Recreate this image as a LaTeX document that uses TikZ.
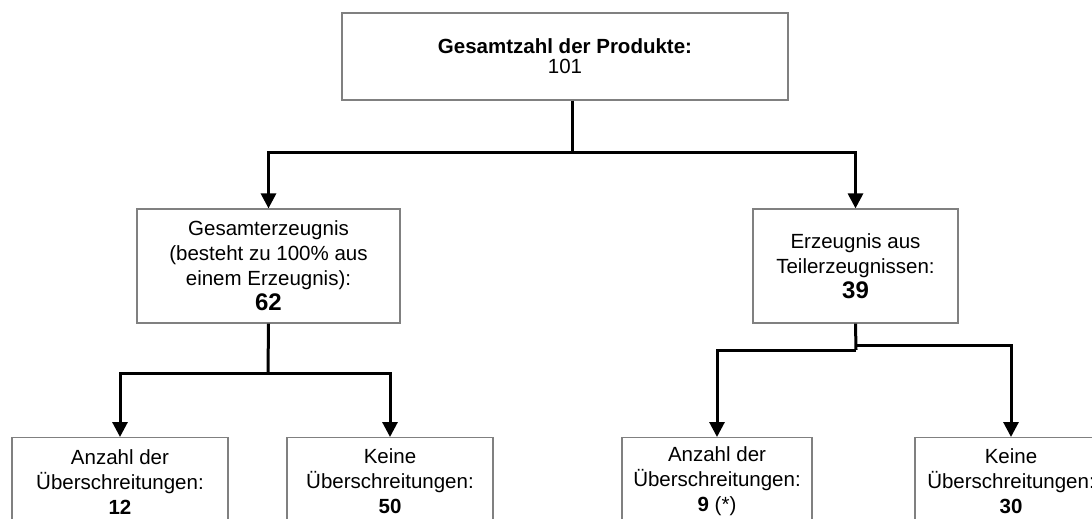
\documentclass[tikz,border=0pt]{standalone}
\usepackage{fontspec}
\setmainfont{Liberation Sans}
\usetikzlibrary{arrows.meta}
\begin{document}
\begin{tikzpicture}[x=1pt,y=-1pt,
  box/.style={draw=black!50, line width=1.2pt, fill=white, inner sep=0pt, align=center,
    font=\fontsize{20.5}{25}\selectfont},
  conn/.style={line width=3pt, black},
  arr/.style={conn, -{Triangle[width=15pt,length=15pt]}},
  big/.style={}]
\useasboundingbox (0,0) rectangle (1092,519);
\clip (0,0) rectangle (1092,519);
\fill[white] (0,0) rectangle (1092,519);
% nodes
\node[box, minimum width=446pt, minimum height=87pt, font=\fontsize{20.5}{20}\selectfont] (top) at (565,56.5)
  {\textbf{Gesamtzahl der Produkte:}\\101};
\node[box, minimum width=263pt, minimum height=114pt] (ml) at (268.5,266)
  {Gesamterzeugnis\\(besteht zu 100\% aus\\einem Erzeugnis):\\{\fontsize{24}{25}\selectfont\textbf{62}}};
\node[box, minimum width=205pt, minimum height=114pt] (mr) at (855.5,266)
  {Erzeugnis aus\\Teilerzeugnissen:\\{\fontsize{24}{25}\selectfont\textbf{39}}};
\node[box, minimum width=216pt, minimum height=88pt, anchor=north] (b1) at (120,437)
  {Anzahl der\\Überschreitungen:\\\textbf{12}};
\node[box, minimum width=206pt, minimum height=88pt, anchor=north] (b2) at (390,437)
  {Keine\\Überschreitungen:\\\textbf{50}};
\node[box, minimum width=190pt, minimum height=88pt, anchor=north] (b3) at (717,437)
  {Anzahl der\\Überschreitungen:\\\textbf{9} (*)};
\node[box, minimum width=192pt, minimum height=88pt, anchor=north] (b4) at (1011,437)
  {Keine\\Überschreitungen:\\\textbf{30}};
% junctions
\coordinate (tj) at (572,152);
\coordinate (lj) at (268,373);
\coordinate (rj1) at (856,350);
\coordinate (rj2) at (856,345);
% connectors
\draw[conn] (top.south -| tj) -- (tj);
\draw[arr] (tj) -| (ml.north);
\draw[arr] (tj) -| (mr.north);
\draw[conn] (ml.south) -- (lj);
\draw[arr] (lj) -| (b1.north);
\draw[arr] (lj) -| (b2.north);
\draw[conn] (mr.south) -- (rj1);
\draw[arr] (rj1) -| (b3.north);
\draw[arr] (rj2) -| (b4.north);
\end{tikzpicture}
\end{document}
